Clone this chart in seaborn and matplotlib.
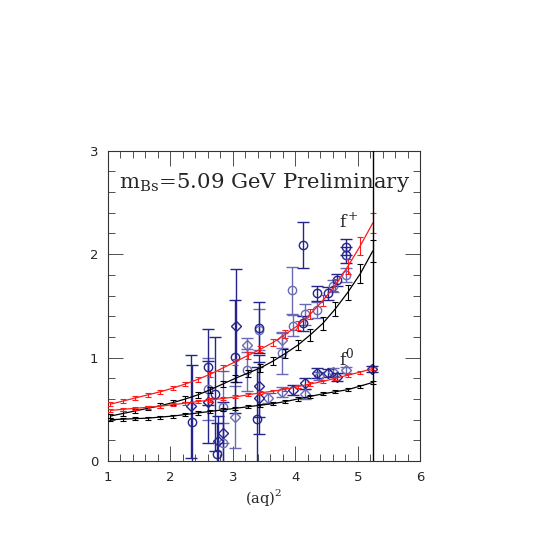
import pandas as pd
import seaborn as sns
import matplotlib.pyplot as plt
from matplotlib.ticker import MultipleLocator

# fit grid in (aq)^2
q2_grid = [1.04, 1.24, 1.44, 1.64, 1.84, 2.04, 2.24, 2.44, 2.64, 2.84, 3.04,
           3.24, 3.44, 3.64, 3.84, 4.04, 4.24, 4.44, 4.64, 4.84, 5.04, 5.24]

# fitted curves (red / black), with their errors
fplus_red = [0.55, 0.58, 0.61, 0.64, 0.67, 0.705, 0.745, 0.79, 0.84, 0.90, 0.96,
             1.02, 1.08, 1.145, 1.225, 1.31, 1.42, 1.55, 1.70, 1.88, 2.08, 2.30]
fplus_red_err = [0.02, 0.02, 0.02, 0.02, 0.02, 0.02, 0.02, 0.025, 0.025, 0.025, 0.03,
                 0.03, 0.03, 0.035, 0.04, 0.045, 0.05, 0.055, 0.06, 0.07, 0.085, 0.10]
fplus_blk = [0.435, 0.46, 0.485, 0.51, 0.535, 0.565, 0.60, 0.64, 0.69, 0.745, 0.80,
             0.85, 0.90, 0.965, 1.04, 1.12, 1.22, 1.33, 1.47, 1.63, 1.81, 2.03]
fplus_blk_err = [0.02, 0.02, 0.02, 0.02, 0.025, 0.025, 0.025, 0.03, 0.03, 0.03, 0.035,
                 0.035, 0.04, 0.04, 0.045, 0.05, 0.055, 0.06, 0.065, 0.075, 0.09, 0.105]
fzero_red = [0.49, 0.50, 0.51, 0.52, 0.53, 0.545, 0.56, 0.575, 0.59, 0.605, 0.62,
             0.64, 0.66, 0.675, 0.695, 0.72, 0.745, 0.77, 0.80, 0.83, 0.86, 0.895]
fzero_red_err = [0.015] * 22
fzero_blk = [0.40, 0.405, 0.41, 0.415, 0.425, 0.435, 0.45, 0.465, 0.48, 0.495, 0.51,
             0.525, 0.54, 0.555, 0.575, 0.60, 0.625, 0.65, 0.67, 0.69, 0.725, 0.76]
fzero_blk_err = [0.015] * 22

# lattice data, dark set
dark_fp_x = [2.34, 2.60, 2.72, 2.75, 3.04, 3.42, 3.38, 4.13, 4.13, 4.34, 4.52, 4.66, 4.82, 4.82]
dark_fp_y = [0.38, 0.91, 0.65, 0.07, 1.01, 1.29, 0.41, 2.09, 1.33, 1.62, 1.62, 1.75, 2.07, 1.99]
dark_fp_e = [0.55, 0.37, 0.55, 0.30, 0.55, 0.25, 0.50, 0.22, 0.07, 0.07, 0.06, 0.06, 0.08, 0.08]
dark_f0_x = [2.33, 2.60, 2.76, 2.84, 3.05, 3.42, 3.42, 3.96, 4.15, 4.34, 4.52, 4.66, 5.23]
dark_f0_y = [0.53, 0.57, 0.19, 0.27, 1.31, 0.73, 0.61, 0.69, 0.75, 0.85, 0.85, 0.81, 0.89]
dark_f0_e = [0.50, 0.40, 0.25, 0.30, 0.55, 0.30, 0.35, 0.05, 0.05, 0.05, 0.04, 0.04, 0.03]

# lattice data, light set
light_fp_x = [2.60, 2.84, 2.84, 3.22, 3.42, 3.78, 3.94, 3.96, 4.15, 4.34, 4.60, 4.82]
light_fp_y = [0.70, 0.52, 0.17, 0.88, 1.27, 1.04, 1.65, 1.31, 1.42, 1.46, 1.69, 1.80]
light_fp_e = [0.30, 0.35, 0.20, 0.20, 0.20, 0.20, 0.23, 0.10, 0.10, 0.08, 0.06, 0.07]
light_f0_x = [3.03, 3.22, 3.56, 3.78, 3.78, 4.15, 4.38, 4.60, 4.82]
light_f0_y = [0.43, 1.12, 0.61, 1.17, 0.67, 0.65, 0.82, 0.86, 0.88]
light_f0_e = [0.30, 0.07, 0.05, 0.08, 0.05, 0.05, 0.04, 0.04, 0.03]

sns.set_style('ticks')
plt.rcParams['font.family'] = ['DejaVu Sans']
plt.rcParams['mathtext.fontset'] = 'custom'
plt.rcParams['mathtext.rm'] = 'DejaVu Serif'

fig = plt.figure(figsize=(5.45, 5.45), dpi=100)
ax = fig.add_axes([0.198, 0.154, 0.573, 0.5695])

dark = '#24248c'
light = '#6a6ab6'

# data points
for xs, ys, es, col, mk in [(light_fp_x, light_fp_y, light_fp_e, light, 'o'),
                            (light_f0_x, light_f0_y, light_f0_e, light, 'D'),
                            (dark_fp_x, dark_fp_y, dark_fp_e, dark, 'o'),
                            (dark_f0_x, dark_f0_y, dark_f0_e, dark, 'D')]:
    ms = 6 if mk == 'o' else 5
    ax.errorbar(xs, ys, yerr=es, fmt=mk, ms=ms, mfc='none', mec=col, mew=1.0,
                ecolor=col, elinewidth=1.0, capsize=4.5, capthick=1.0, zorder=2)

# fits
for vals, errs, col in [(fplus_blk, fplus_blk_err, 'black'),
                        (fzero_blk, fzero_blk_err, 'black'),
                        (fplus_red, fplus_red_err, '#ff1a1a'),
                        (fzero_red, fzero_red_err, '#ff1a1a')]:
    df = pd.DataFrame({'q2': q2_grid, 'f': vals})
    sns.lineplot(data=df, x='q2', y='f', color=col, lw=0.9, ax=ax, zorder=3)
    ax.errorbar(q2_grid, vals, yerr=errs, fmt='none', ecolor=col,
                elinewidth=0.8, capsize=2, capthick=0.8, zorder=3)

ax.axvline(5.24, color='black', lw=1.0, zorder=4)

ax.set_xlim(1, 6)
ax.set_ylim(0, 3)
ax.xaxis.set_major_locator(MultipleLocator(1))
ax.xaxis.set_minor_locator(MultipleLocator(0.2))
ax.yaxis.set_major_locator(MultipleLocator(1))
ax.yaxis.set_minor_locator(MultipleLocator(0.2))
ax.tick_params(which='both', direction='in', top=True, right=True,
               width=0.6, color='#333333', labelsize=9.5, pad=7)
ax.tick_params(which='major', length=11)
ax.tick_params(which='minor', length=5)
for s in ax.spines.values():
    s.set_linewidth(0.8)
    s.set_color('#333333')

ax.set_xlabel(r'(aq)$^2$', family='DejaVu Serif', fontsize=10.5, labelpad=2)
ax.set_ylabel('')

ax.text(1.17, 2.69, r'm$_{\rm Bs}$=5.09 GeV Preliminary', family='DejaVu Serif',
        fontsize=15.3, va='center', ha='left')
ax.text(4.70, 2.31, r'f$^+$', family='DejaVu Serif', fontsize=12.5, va='center')
ax.text(4.70, 1.0, r'f$^0$', family='DejaVu Serif', fontsize=12.5, va='center')

fig.savefig('out.png', dpi=100)
